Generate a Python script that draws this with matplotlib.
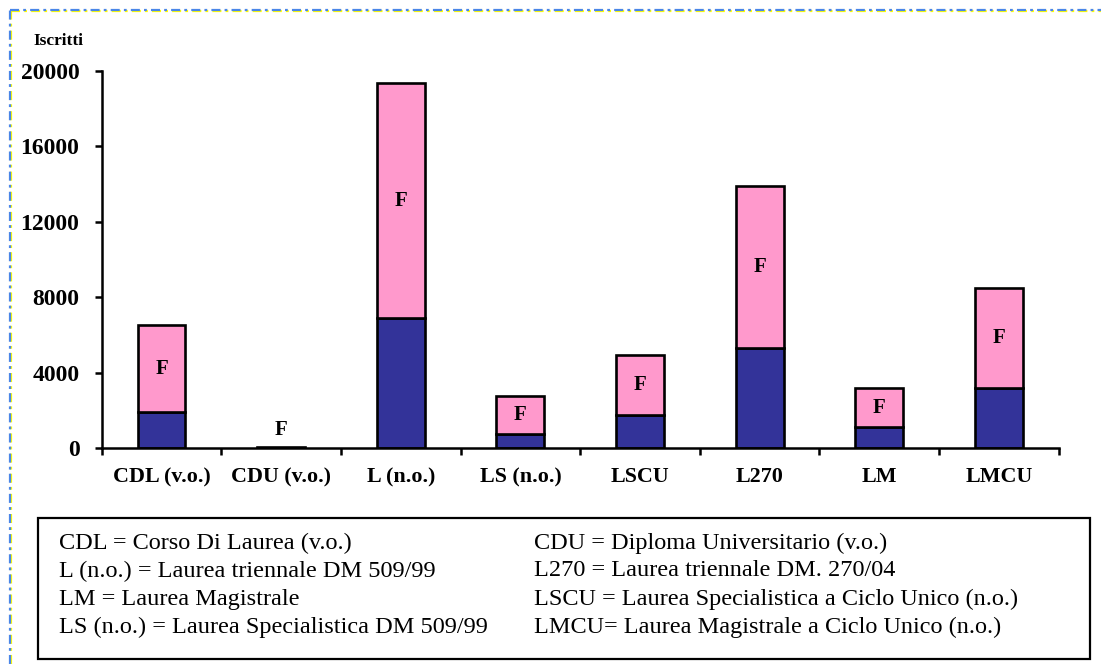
import matplotlib
matplotlib.use('Agg')
import matplotlib.pyplot as plt
from matplotlib.lines import Line2D
from matplotlib.patches import Rectangle

plt.rcParams['font.family'] = ['Liberation Serif', 'DejaVu Serif']
plt.rcParams['lines.scale_dashes'] = False

categories = ['CDL (v.o.)', 'CDU (v.o.)', 'L (n.o.)', 'LS (n.o.)',
              'LSCU', 'L270', 'LM', 'LMCU']
maschi = [1920, 15, 6880, 740, 1730, 5330, 1090, 3180]
femmine = [4580, 40, 12470, 2030, 3220, 8570, 2110, 5320]
seg_label = 'F'

legend_left = ['CDL = Corso Di Laurea (v.o.)',
               'L (n.o.) = Laurea triennale DM 509/99',
               'LM = Laurea Magistrale',
               'LS (n.o.) = Laurea Specialistica DM 509/99']
legend_right = ['CDU = Diploma Universitario (v.o.)',
                'L270 = Laurea triennale DM. 270/04',
                'LSCU = Laurea Specialistica a Ciclo Unico (n.o.)',
                'LMCU= Laurea Magistrale a Ciclo Unico (n.o.)']

W, H = 1101, 664
fig = plt.figure(figsize=(W / 100, H / 100), dpi=100)
ax = fig.add_axes([101.7 / W, 1 - 448 / H, 957 / W, 377 / H])

x = range(len(categories))
ax.bar(x, maschi, width=0.4, color='#333399', edgecolor='black', linewidth=1.9)
ax.bar(x, femmine, width=0.4, bottom=maschi, color='#FF99CC',
       edgecolor='black', linewidth=1.9)

for i in x:
    mid = maschi[i] + femmine[i] / 2
    if femmine[i] < 1000:
        mid = maschi[i] + femmine[i] + 900
    ax.text(i, mid, seg_label, ha='center', va='center',
            fontsize=15, fontweight='bold')

ax.set_xlim(-0.5, len(categories) - 0.5)
ax.set_ylim(0, 20000)
ax.set_yticks([0, 4000, 8000, 12000, 16000, 20000])
ax.set_xticks(list(x))
ax.set_xticklabels(categories)
ax.set_xticks([i - 0.5 for i in range(len(categories) + 1)], minor=True)
ax.tick_params(axis='x', which='major', length=0, pad=14, labelsize=15.8)
ax.tick_params(axis='x', which='minor', length=5, width=1.8, direction='out')
ax.tick_params(axis='y', length=5, width=1.8, direction='out', pad=11,
               labelsize=17)
for lab in ax.get_xticklabels() + ax.get_yticklabels():
    lab.set_fontweight('bold')
for side in ['top', 'right']:
    ax.spines[side].set_visible(False)
for side in ['left', 'bottom']:
    ax.spines[side].set_linewidth(1.8)

fig.text(33 / W, 1 - 41 / H, 'Iscritti', fontsize=12.5, fontweight='bold',
         ha='left', va='center')

# legenda delle sigle
fig.patches.append(Rectangle((38 / W, 1 - 659 / H), (1090 - 38) / W,
                             (659 - 518) / H, transform=fig.transFigure,
                             fill=False, edgecolor='black', linewidth=1.6))
for k in range(4):
    yy = 1 - (543 + 28 * k) / H
    fig.text(59 / W, yy, legend_left[k], fontsize=17.5, ha='left', va='center')
    fig.text(534 / W, yy, legend_right[k], fontsize=17.5, ha='left', va='center')

# bordo tratteggiato
dash = (0, (6.5, 3, 2, 3))
for col, off in [('#FFFF00', 1.2), ('#4A86E8', 0)]:
    fig.add_artist(Line2D([(10 + off) / W, (10 + off) / W],
                          [0, 1 - (10 + off) / H], color=col, lw=1.6,
                          linestyle=dash, transform=fig.transFigure))
    fig.add_artist(Line2D([(10 + off) / W, 1],
                          [1 - (10 + off) / H, 1 - (10 + off) / H], color=col,
                          lw=1.6, linestyle=dash, transform=fig.transFigure))

fig.savefig('out.png', dpi=100)
